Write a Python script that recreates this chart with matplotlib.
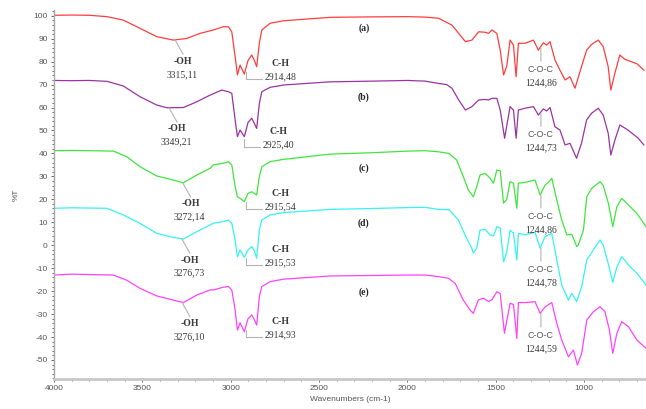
import numpy as np
import matplotlib
matplotlib.use('Agg')
import matplotlib.pyplot as plt
from matplotlib.ticker import MultipleLocator

plt.rcParams['axes.unicode_minus'] = False

# Spectra (wavenumber cm-1, %T)
wn_a = [4000, 3900, 3800, 3700, 3608, 3513, 3419, 3325, 3249, 3174, 3098, 3042, 3013, 2994, 2975, 2962, 2947, 2923, 2902, 2881,
        2866, 2853, 2838, 2824, 2777, 2702, 2438, 2200, 2000, 1900, 1823, 1748, 1710, 1672, 1635, 1597, 1560, 1541, 1522, 1494,
        1475, 1456, 1438, 1419, 1400, 1385, 1372, 1334, 1287, 1259, 1231, 1212, 1193, 1165, 1137, 1108, 1080, 1052, 1015, 986,
        958, 920, 892, 864, 849, 826, 798, 770, 733, 700, 662]
t_a = [100.2, 100.3, 100.2, 99.6, 98.1, 94.5, 90.9, 89.4, 90.1, 92.3, 93.8, 95.2, 95.2, 93.0, 82.1, 74.2, 78.5, 74.6, 80.5, 82.9,
       80.5, 77.8, 88.0, 93.8, 96.7, 97.8, 99.3, 99.5, 99.6, 99.4, 98.9, 95.9, 92.3, 88.7, 89.4, 93.0, 92.8, 92.3, 93.8, 92.3,
       85.0, 74.2, 78.0, 89.4, 87.2, 73.4, 88.0, 88.0, 89.4, 85.0, 88.2, 87.2, 88.7, 80.7, 76.3, 72.0, 73.4, 68.4, 77.8, 85.0,
       87.5, 89.4, 86.5, 77.8, 67.6, 75.0, 82.9, 81.0, 80.0, 79.0, 76.3]

wn_b = [4000, 3900, 3800, 3700, 3608, 3513, 3419, 3362, 3268, 3192, 3117, 3051, 3013, 2994, 2975, 2962, 2947, 2923, 2902, 2881,
        2866, 2853, 2838, 2824, 2777, 2702, 2438, 2200, 2000, 1900, 1823, 1778, 1748, 1710, 1672, 1635, 1597, 1560, 1541, 1522,
        1494, 1475, 1450, 1438, 1419, 1400, 1385, 1372, 1334, 1287, 1259, 1231, 1212, 1193, 1165, 1137, 1108, 1080, 1043, 1015,
        986, 958, 920, 892, 864, 849, 826, 798, 752, 695, 662]
t_b = [71.8, 71.7, 71.8, 71.4, 69.4, 64.7, 61.1, 59.9, 60.0, 62.5, 65.4, 67.6, 66.9, 66.2, 54.6, 47.3, 50.2, 47.3, 53.5, 55.3,
       53.0, 50.9, 61.8, 66.9, 68.8, 69.8, 71.2, 71.5, 71.8, 71.5, 70.5, 70.0, 68.4, 63.3, 58.9, 60.4, 63.3, 63.5, 63.3, 64.0,
       64.0, 58.9, 46.6, 52.0, 60.4, 58.9, 46.6, 58.9, 59.7, 60.4, 56.7, 59.4, 58.5, 60.0, 51.6, 50.2, 43.7, 44.4, 37.9, 44.4,
       54.6, 57.5, 59.7, 56.7, 48.8, 39.3, 45.8, 52.4, 50.2, 46.7, 43.7]

wn_c = [4000, 3900, 3800, 3664, 3589, 3513, 3419, 3325, 3268, 3192, 3117, 3098, 3042, 3013, 2994, 2975, 2962, 2947, 2923, 2902,
        2881, 2853, 2838, 2824, 2777, 2702, 2438, 2200, 2000, 1900, 1823, 1765, 1721, 1684, 1655, 1627, 1608, 1589, 1560, 1532,
        1513, 1494, 1475, 1456, 1438, 1419, 1400, 1381, 1372, 1334, 1278, 1249, 1221, 1200, 1183, 1155, 1127, 1098, 1070, 1042,
        1033, 1004, 985, 957, 910, 892, 863, 838, 815, 787, 749, 702, 650]
t_c = [41.2, 41.3, 41.2, 41.0, 38.6, 34.2, 30.2, 28.4, 27.2, 30.6, 33.5, 35.0, 35.7, 36.4, 35.0, 25.5, 21.1, 20.4, 19.0, 22.6,
       23.3, 21.9, 29.9, 34.2, 36.4, 37.4, 39.7, 40.3, 41.0, 41.2, 40.7, 40.0, 37.1, 29.9, 24.0, 21.1, 25.5, 30.6, 31.3, 29.2,
       27.0, 32.8, 32.4, 18.3, 20.0, 27.7, 27.0, 16.1, 27.0, 27.4, 28.4, 21.9, 26.2, 27.5, 29.2, 19.7, 11.0, 4.5, 4.7, -0.6,
       0.1, 6.6, 21.1, 24.8, 27.7, 26.0, 18.3, 8.1, 16.8, 20.4, 17.5, 13.9, 8.1]

wn_d = [4000, 3900, 3800, 3702, 3608, 3513, 3419, 3325, 3268, 3192, 3117, 3098, 3042, 3013, 2994, 2975, 2962, 2947, 2923, 2902,
        2881, 2866, 2853, 2838, 2824, 2777, 2702, 2438, 2200, 2000, 1900, 1823, 1765, 1712, 1674, 1636, 1627, 1608, 1589, 1560,
        1532, 1513, 1494, 1475, 1456, 1438, 1419, 1400, 1381, 1372, 1334, 1278, 1249, 1221, 1200, 1183, 1155, 1127, 1089, 1070,
        1042, 1014, 985, 948, 910, 892, 863, 838, 815, 787, 749, 702, 650]
t_d = [16.1, 16.3, 16.2, 16.1, 13.2, 9.5, 5.2, 3.4, 2.7, 5.9, 8.8, 9.6, 10.3, 11.0, 9.6, 2.3, -5.0, -2.1, -5.3, -2.0,
       -0.6, -2.5, -5.7, 6.6, 11.0, 13.2, 14.2, 15.6, 16.0, 16.4, 16.5, 15.6, 15.5, 11.0, 4.5, -1.3, -3.5, -1.3, 6.6, 6.8,
       4.5, 4.0, 8.1, 7.5, -7.2, -3.0, 6.6, 5.2, -6.4, 5.2, 4.5, 5.6, -1.3, 3.8, 4.5, 5.2, -6.4, -17.3, -23.9, -21.0,
       -24.6, -18.0, -6.4, -2.1, 2.3, 0.1, -8.2, -16.2, -9.6, -5.0, -8.6, -12.2, -17.3]

wn_e = [4000, 3900, 3800, 3664, 3589, 3513, 3419, 3325, 3268, 3192, 3117, 3098, 3042, 3013, 2994, 2975, 2962, 2947, 2923, 2902,
        2881, 2866, 2853, 2838, 2824, 2777, 2702, 2438, 2200, 2000, 1900, 1823, 1768, 1730, 1684, 1646, 1627, 1599, 1570, 1541,
        1522, 1494, 1475, 1451, 1438, 1419, 1400, 1381, 1372, 1334, 1278, 1249, 1221, 1200, 1183, 1155, 1127, 1089, 1061, 1038,
        1014, 985, 948, 910, 882, 857, 838, 815, 787, 749, 702, 650]
t_e = [-13.0, -12.6, -12.8, -13.0, -15.2, -18.8, -22.1, -23.9, -25.0, -21.7, -19.5, -19.5, -18.3, -18.0, -19.5, -28.2, -37.0, -33.8, -37.7, -32.0,
       -30.4, -32.5, -34.8, -22.4, -18.0, -15.9, -14.8, -13.4, -13.2, -13.0, -13.0, -13.7, -14.4, -16.6, -23.9, -28.2, -29.7, -23.9, -23.1, -24.5,
       -23.8, -20.3, -21.0, -38.4, -33.0, -25.3, -25.8, -40.6, -25.0, -25.0, -24.6, -29.7, -26.9, -25.8, -25.0, -34.0, -41.3, -48.6, -45.7, -52.2,
       -47.1, -32.6, -29.0, -26.8, -29.0, -37.0, -47.1, -38.4, -33.3, -35.5, -41.3, -44.9]

# sample letters and labelled peaks
samples = ['(a)', '(b)', '(c)', '(d)', '(e)']
letter_y = [94.4, 64.6, 33.7, 9.4, -20.4]
oh_peaks = ['3315,11', '3349,21', '3272,14', '3276,73', '3276,10']
ch_peaks = ['2914,48', '2925,40', '2915,54', '2915,53', '2914,93']
coc_peaks = ['1244,86', '1244,73', '1244,86', '1244,78', '1244,59']

series = [(wn_a, t_a), (wn_b, t_b), (wn_c, t_c), (wn_d, t_d), (wn_e, t_e)]
colors = ['#ff3d3d', '#9a33a2', '#3ee63e', '#36f2f2', '#ff42ff']

serif = 'Liberation Serif'
sans = 'Liberation Sans'
txt_col = '#3a3a3a'
lead_col = '#b4b4b4'


def num(s):
    return float(s.replace(',', '.'))


fig = plt.figure(figsize=(6.46, 4.09), dpi=100)
ax = fig.add_axes([54 / 646, 1 - 379 / 409, 592 / 646, 369 / 409])

for (wn, t), col in zip(series, colors):
    ax.plot(wn, t, color=col, lw=0.9)

for i, (wn, t) in enumerate(series):
    wr, tr = np.array(wn[::-1]), np.array(t[::-1])

    # -OH band
    x = num(oh_peaks[i])
    y = np.interp(x, wr, tr)
    ax.annotate('', xy=(x, y), xytext=(5.8, -10.4), textcoords='offset points',
                arrowprops=dict(arrowstyle='-', color=lead_col, lw=0.8, shrinkA=0, shrinkB=0))
    ax.annotate('-OH', xy=(x, y), xytext=(6.0, -15.3), textcoords='offset points',
                ha='center', va='center', fontsize=7, family=serif, weight='bold', color=txt_col)
    ax.annotate(oh_peaks[i], xy=(x, y), xytext=(5.0, -24.8), textcoords='offset points',
                ha='center', va='center', fontsize=7, family=serif, color=txt_col)

    # C-H band
    x = num(ch_peaks[i])
    y = np.interp(x, wr, tr) - 1.5
    ax.annotate('', xy=(x, y), xytext=(11.5, -5.2), textcoords='offset points',
                arrowprops=dict(arrowstyle='-', color=lead_col, lw=0.8, shrinkA=0, shrinkB=0,
                                connectionstyle='angle,angleA=0,angleB=90,rad=0'))
    ax.annotate('C-H', xy=(x, y), xytext=(25.0, 6.0), textcoords='offset points',
                ha='center', va='center', fontsize=7, family=serif, weight='bold', color=txt_col)
    ax.annotate(ch_peaks[i], xy=(x, y), xytext=(25.0, -3.5), textcoords='offset points',
                ha='center', va='center', fontsize=7, family=serif, color=txt_col)

    # C-O-C band
    x = num(coc_peaks[i])
    y = np.interp(x, wr, tr)
    ax.annotate('', xy=(x, y), xytext=(0, -11.5), textcoords='offset points',
                arrowprops=dict(arrowstyle='-', color=lead_col, lw=0.8, shrinkA=1, shrinkB=1))
    ax.annotate('C-O-C', xy=(x, y), xytext=(0, -16.5), textcoords='offset points',
                ha='center', va='center', fontsize=6.5, family=sans, color='#555555')
    ax.annotate(coc_peaks[i], xy=(x, y), xytext=(0, -26.0), textcoords='offset points',
                ha='center', va='center', fontsize=7, family=serif, color=txt_col)

    ax.text(2247, letter_y[i], samples[i], ha='center', va='center', fontsize=7,
            family=serif, weight='bold', color='#222222')

ax.set_ylim(-58.3, 102.5)
ax.xaxis.set_minor_locator(MultipleLocator(100))
ax.yaxis.set_major_locator(MultipleLocator(10))
ax.yaxis.set_minor_locator(MultipleLocator(2))
ax.set_xticks([4000, 3500, 3000, 2500, 2000, 1500, 1000])
ax.set_xlim(4000, 650)

ax.tick_params(which='both', colors='#555555', labelsize=6, width=0.6)
ax.tick_params(which='major', length=2.5, pad=2)
ax.tick_params(which='minor', length=1.5)
for lab in ax.get_xticklabels() + ax.get_yticklabels():
    lab.set_family(sans)

for s in ['top', 'right']:
    ax.spines[s].set_visible(False)
ax.spines['left'].set_color('#a8a8a8')
ax.spines['left'].set_linewidth(1.0)
ax.spines['bottom'].set_color('#c8c8c8')
ax.spines['bottom'].set_linewidth(2.0)

ax.set_xlabel('Wavenumbers (cm-1)', fontsize=6, family=sans, color='#555555', labelpad=3)
ax.set_ylabel('%T', fontsize=6, family=sans, color='#555555', labelpad=10)

fig.savefig('out.png', dpi=100)
